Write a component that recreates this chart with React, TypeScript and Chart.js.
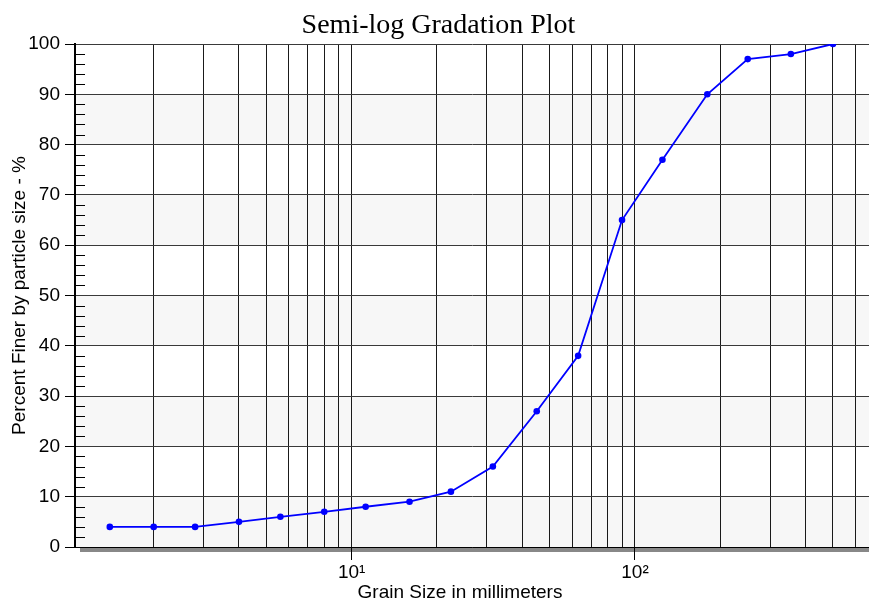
import React, { useEffect, useRef } from 'react';
import { Chart, registerables } from 'chart.js';

Chart.register(...registerables);

// Sieve sizes (mm) and percent finer
const grainSizes = [1.4, 2, 2.8, 4, 5.6, 8, 11.2, 16, 22.4, 31.5, 45, 63, 90, 125, 180, 250, 355, 500];
const percentFiner = [4, 4, 4, 5, 6, 7, 8, 9, 11, 16, 27, 38, 65, 77, 90, 97, 98, 100];

// Axis definitions
const xMin = 1.055;
const xMax = 670;
const xGridValues = [2, 3, 4, 5, 6, 7, 8, 9, 10, 20, 30, 40, 50, 60, 70, 80, 90, 100, 200, 300, 400, 500, 600];
const xTickLabels: Record<number, string> = { 10: '10\u00B9', 100: '10\u00B2' };
const yMinorValues = [2, 4, 6, 8, 12, 14, 16, 18, 22, 24, 26, 28, 32, 34, 36, 38, 42, 44, 46, 48, 52, 54, 56, 58, 62, 64, 66, 68, 72, 74, 76, 78, 82, 84, 86, 88, 92, 94, 96, 98];
const shadedBands: [number, number][] = [[0, 10], [20, 30], [40, 50], [60, 70], [80, 90]];
const xTitle = 'Grain Size in millimeters';
const yTitle = 'Percent Finer by particle size - %';
const chartTitle = 'Semi-log Gradation Plot';

const SANS = 'Liberation Sans, Arial, sans-serif';
const FS = 19;

const decorPlugin = {
  id: 'decor',
  beforeDraw(chart: any) {
    const { ctx, chartArea } = chart;
    const y = chart.scales.y;
    ctx.save();
    ctx.fillStyle = '#f7f7f7';
    shadedBands.forEach(([a, b]) => {
      const y1 = y.getPixelForValue(b);
      const y2 = y.getPixelForValue(a);
      ctx.fillRect(chartArea.left, y1, chartArea.right - chartArea.left, y2 - y1);
    });
    ctx.fillStyle = '#888888';
    ctx.fillRect(chartArea.left + 5, chartArea.bottom + 1, chartArea.right - chartArea.left, 4);
    ctx.restore();
  },
  afterDraw(chart: any) {
    const { ctx, chartArea } = chart;
    const y = chart.scales.y;
    ctx.save();
    ctx.strokeStyle = '#000';
    ctx.lineWidth = 1;
    ctx.beginPath();
    yMinorValues.forEach((v) => {
      const py = Math.round(y.getPixelForValue(v)) + 0.5;
      ctx.moveTo(chartArea.left, py);
      ctx.lineTo(chartArea.left + 10, py);
    });
    ctx.stroke();
    // x-axis title (slightly left of the plot centre, as in the original)
    ctx.fillStyle = '#000';
    ctx.font = `${FS}px ${SANS}`;
    ctx.textAlign = 'center';
    ctx.textBaseline = 'alphabetic';
    ctx.fillText(xTitle, (chartArea.left + chartArea.right) / 2 - 12, chart.height - 7);
    ctx.restore();
  },
};

export default function App() {
  const ref = useRef<HTMLCanvasElement | null>(null);
  useEffect(() => {
    if (!ref.current) return;
    const chart = new Chart(ref.current, {
      type: 'line',
      data: {
        datasets: [
          {
            data: grainSizes.map((x, i) => ({ x, y: percentFiner[i] })),
            borderColor: '#0000ff',
            backgroundColor: '#0000ff',
            borderWidth: 1.8,
            pointRadius: 3.3,
            pointBorderWidth: 0,
            pointBackgroundColor: '#0000ff',
            tension: 0,
          },
        ],
      },
      options: {
        animation: false,
        responsive: false,
        layout: { padding: 0, autoPadding: false },
        plugins: {
          legend: { display: false },
          tooltip: { enabled: false },
          title: {
            display: true,
            text: chartTitle,
            color: '#000',
            font: { family: 'Liberation Serif, Times New Roman, serif', size: 28, weight: 'normal' },
            padding: { top: 1, bottom: 1.4 },
          },
        },
        scales: {
          x: {
            type: 'logarithmic',
            min: xMin,
            max: xMax,
            afterBuildTicks: (s: any) => {
              s.ticks = xGridValues.map((v) => ({ value: v }));
            },
            afterFit: (s: any) => {
              s.height = 58;
              s.paddingLeft = 0;
              s.paddingRight = 0;
            },
            ticks: {
              autoSkip: false,
              maxRotation: 0,
              padding: 1,
              color: '#000',
              font: { family: SANS, size: FS },
              callback: (v: any) => xTickLabels[Number(v)] ?? '',
            },
            grid: {
              color: '#1a1a1a',
              lineWidth: 1,
              tickLength: 13,
              tickColor: (c: any) => (c.tick && xTickLabels[c.tick.value] ? '#000' : 'rgba(0,0,0,0)'),
            },
            border: { color: '#000', width: 1 },
            title: { display: false },
          },
          y: {
            min: 0,
            max: 100,
            afterFit: (s: any) => {
              s.width = 67;
            },
            ticks: {
              stepSize: 10,
              padding: 5,
              color: '#000',
              font: { family: SANS, size: FS },
            },
            grid: { color: '#3a3a3a', lineWidth: 1, tickLength: 10, tickColor: '#000' },
            border: { color: '#000', width: 2 },
            title: {
              display: true,
              text: yTitle,
              color: '#000',
              font: { family: SANS, size: FS },
              padding: { top: 0, bottom: 0 },
            },
          },
        },
      } as any,
      plugins: [decorPlugin],
    });
    return () => chart.destroy();
  }, []);
  return (
    <div style={{ position: 'fixed', left: 8, top: 8, width: 861, height: 597, overflow: 'hidden' }}>
      <canvas ref={ref} width={861} height={597} style={{ display: 'block' }} />
    </div>
  );
}
